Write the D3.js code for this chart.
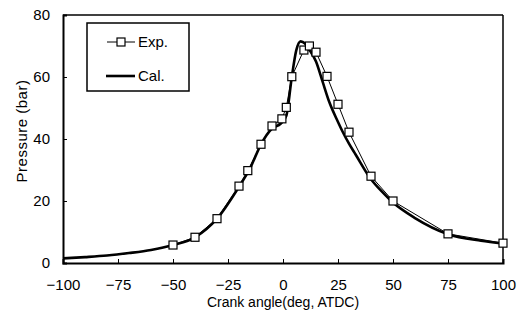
<!DOCTYPE html>
<html>
<head>
<meta charset="utf-8">
<script src="https://cdn.jsdelivr.net/npm/d3@7"></script>
<style>
  body { margin: 0; background: #fff; }
  text { font-family: "Liberation Sans", Arial, sans-serif; fill: #000; }
</style>
</head>
<body>
<div id="chart"></div>
<script>
// measured points (square markers)
const expAngle = [-50, -40, -30, -20, -16, -10, -5, -0.5, 1.5, 4, 9.5, 12, 15, 20, 25, 30, 40, 50, 75, 100]
const expPressure = [5.8, 8.3, 14.3, 24.8, 29.8, 38.3, 44.2, 46.5, 50.2, 60.1, 68.7, 70, 68, 60.2, 51.2, 42.2, 28, 20, 9.4, 6.4]

// calculated curve
const calAngle = [-100, -90, -80, -70, -60, -50, -40, -30, -20, -15, -10, -5, -1, 1.5, 4, 6, 8, 10, 12, 15, 18, 21, 25, 27, 30, 33, 40, 45, 50, 60, 75, 90, 100]
const calPressure = [1.5, 1.9, 2.4, 3.2, 4.2, 5.8, 8.3, 14.3, 24.6, 30.5, 38.3, 43.4, 45, 47.5, 60, 68.5, 71.5, 70.8, 68.8, 65, 58.5, 52, 45.5, 42.5, 38.5, 35, 27, 23, 19.5, 14.5, 9.3, 7.2, 6.3]

const xTicks = [-100, -75, -50, -25, 0, 25, 50, 75, 100]
const yTicks = [0, 20, 40, 60, 80]

const config = {
    width: 522,
    height: 322,
    margin: { top: 15, right: 19, bottom: 59, left: 63 }
}

const innerW = config.width - config.margin.left - config.margin.right
const innerH = config.height - config.margin.top - config.margin.bottom

const svg = d3.select('#chart').append('svg')
    .attr('width', config.width)
    .attr('height', config.height)

const g = svg.append('g')
    .attr('transform', `translate(${config.margin.left},${config.margin.top})`)

const x = d3.scaleLinear().domain([-100, 100]).range([0, innerW])
const y = d3.scaleLinear().domain([0, 80]).range([innerH, 0])

// frame (top and right)
g.append('line')
    .attr('x1', 0).attr('x2', innerW).attr('y1', 0).attr('y2', 0)
    .attr('stroke', '#000').attr('stroke-width', 1.5)
g.append('line')
    .attr('x1', innerW).attr('x2', innerW).attr('y1', 0).attr('y2', innerH)
    .attr('stroke', '#000').attr('stroke-width', 1.5)

// axes
const xAxis = g.append('g')
    .attr('transform', `translate(0,${innerH})`)
    .call(d3.axisBottom(x).tickValues(xTicks).tickSize(-4).tickPadding(16)
        .tickFormat(d => d < 0 ? '\u2212' + Math.abs(d) : d))
const yAxis = g.append('g')
    .call(d3.axisLeft(y).tickValues(yTicks).tickSize(-4).tickPadding(13))

;[xAxis, yAxis].forEach(a => {
    a.select('.domain').attr('stroke', '#000').attr('stroke-width', 2)
    a.selectAll('.tick line').attr('stroke', '#000').attr('stroke-width', 1)
    a.selectAll('.tick text')
        .style('font-family', '"Liberation Sans", Arial, sans-serif')
        .style('font-size', '15px')
        .attr('fill', '#000')
})

// axis titles
svg.append('text')
    .attr('x', config.margin.left + x(0))
    .attr('y', 307)
    .attr('text-anchor', 'middle')
    .style('font-size', '14px')
    .text('Crank angle(deg, ATDC)')

svg.append('text')
    .attr('transform', 'translate(27,131) rotate(-90)')
    .attr('text-anchor', 'middle')
    .style('font-size', '15px')
    .style('letter-spacing', '0.5px')
    .text('Pressure (bar)')

// calculated line
const calData = calAngle.map((a, i) => ({ a: a, p: calPressure[i] }))
const expData = expAngle.map((a, i) => ({ a: a, p: expPressure[i] }))

g.append('path')
    .datum(calData)
    .attr('fill', 'none')
    .attr('stroke', '#000')
    .attr('stroke-width', 2.6)
    .attr('stroke-linejoin', 'round')
    .attr('d', d3.line().x(d => x(d.a)).y(d => y(d.p)).curve(d3.curveMonotoneX))

// experimental line + markers
g.append('path')
    .datum(expData)
    .attr('fill', 'none')
    .attr('stroke', '#000')
    .attr('stroke-width', 1)
    .attr('d', d3.line().x(d => x(d.a)).y(d => y(d.p)))

const ms = 8
g.selectAll('.exp')
    .data(expData)
    .join('rect')
    .attr('class', 'exp')
    .attr('x', d => x(d.a) - ms / 2)
    .attr('y', d => y(d.p) - ms / 2)
    .attr('width', ms)
    .attr('height', ms)
    .attr('fill', '#fff')
    .attr('stroke', '#000')
    .attr('stroke-width', 1.2)

// legend
const legend = svg.append('g')
svg.append('rect')
    .attr('x', 87).attr('y', 23)
    .attr('width', 102).attr('height', 68)
    .attr('fill', 'none')
    .attr('stroke', '#000')
    .attr('stroke-width', 1.5)

legend.append('line')
    .attr('x1', 107).attr('x2', 135).attr('y1', 42).attr('y2', 42)
    .attr('stroke', '#000').attr('stroke-width', 1)
legend.append('rect')
    .attr('x', 121 - ms / 2).attr('y', 42 - ms / 2)
    .attr('width', ms).attr('height', ms)
    .attr('fill', '#fff').attr('stroke', '#000').attr('stroke-width', 1.2)
legend.append('text')
    .attr('x', 138).attr('y', 47)
    .style('font-size', '15px')
    .text('Exp.')

legend.append('line')
    .attr('x1', 106).attr('x2', 135).attr('y1', 76).attr('y2', 76)
    .attr('stroke', '#000').attr('stroke-width', 2.6)
legend.append('text')
    .attr('x', 138).attr('y', 81)
    .style('font-size', '15px')
    .text('Cal.')
</script>
</body>
</html>
